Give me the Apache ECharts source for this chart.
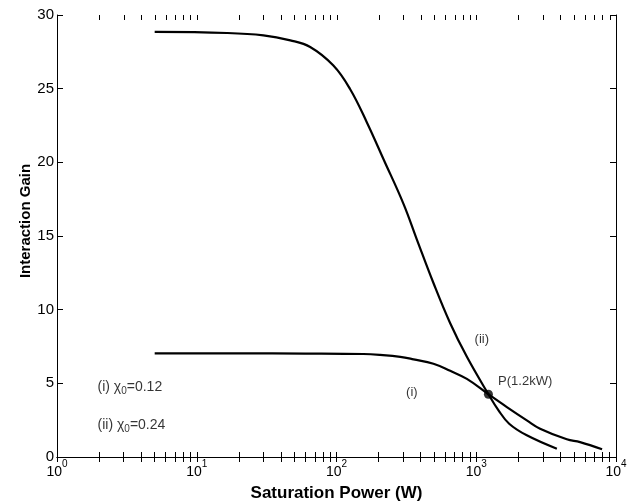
<!DOCTYPE html>
<html>
<head>
<meta charset="utf-8">
<script src="https://cdn.jsdelivr.net/npm/echarts@6/dist/echarts.min.js"></script>
<style>html,body{margin:0;padding:0;background:#fff}#c{width:631px;height:504px}</style>
</head>
<body>
<div id="c"></div>
<script>
// ---- data ----
var curveI_x = [5, 20, 60, 156, 205, 286, 356, 494, 651, 857, 1222, 1656, 2300, 2864, 4446, 5534, 7950];
var curveI_y = [7.03, 7.03, 7.02, 6.99, 6.93, 6.80, 6.63, 6.33, 5.85, 5.30, 4.26, 3.39, 2.49, 1.92, 1.20, 1.01, 0.52];
var curveII_x = [5, 16.4, 30, 46.7, 64.8, 95, 125, 165, 217, 301, 376, 494, 651, 857, 1222, 1443, 1720, 2300, 3774];
var curveII_y = [28.85, 28.78, 28.62, 28.28, 27.83, 26.57, 24.98, 22.71, 20.21, 17.2, 14.76, 11.81, 9.08, 6.80, 4.26, 3.17, 2.26, 1.47, 0.56];
var pointP = [1222, 4.26];
var xMin = 1, xMax = 10000;
var yMin = 0, yMax = 30, yStep = 5;
var majorTicks = [1, 10, 100, 1000, 10000];
var minorTicks = [2,3,4,5,6,7,8,9, 20,30,40,50,60,70,80,90, 200,300,400,500,600,700,800,900, 2000,3000,4000,5000,6000,7000,8000,9000];
var centerNotes = [
  {x: 1096, y: 8.0, text: '(ii)'},
  {x: 346, y: 4.4, text: '(i)'},
  {x: 2239, y: 5.12, text: 'P(1.2kW)'}
];
var legendNotes = [
  {x: 1.95, y: 4.7, text: '{n|(i) χ}{s|0}{n|=0.12}'},
  {x: 1.95, y: 2.12, text: '{n|(ii) χ}{s|0}{n|=0.24}'}
];
var xTitle = 'Saturation Power (W)';
var yTitle = 'Interaction Gain';

function zip(a, b) { return a.map(function (v, i) { return [v, b[i]]; }); }

var FONT = 'Liberation Sans';
var chart = echarts.init(document.getElementById('c'), null, {renderer: 'canvas'});
var axisLine = {show: true, lineStyle: {color: '#000', width: 1}};
var allTicks = majorTicks.concat(minorTicks);
chart.setOption({
  animation: false,
  backgroundColor: '#fff',
  grid: {left: 57, right: 15, top: 15, bottom: 47, outerBoundsMode: 'none', containLabel: false},
  xAxis: [{
    type: 'log', logBase: 10, min: xMin, max: xMax,
    axisLine: axisLine,
    axisTick: {show: true, inside: true, length: 5, customValues: allTicks, lineStyle: {color: '#000'}},
    splitLine: {show: false},
    axisLabel: {
      margin: 2, fontFamily: FONT, color: '#000', customValues: majorTicks,
      formatter: function (v) { return '{b|10}{e|' + Math.round(Math.log10(v)) + '}'; },
      rich: {
        b: {fontSize: 14, fontFamily: FONT, color: '#000', lineHeight: 20, verticalAlign: 'bottom'},
        e: {fontSize: 10, fontFamily: FONT, color: '#000', lineHeight: 11, verticalAlign: 'top'}
      }
    },
    name: xTitle, nameLocation: 'middle', nameGap: 28, nameMoveOverlap: false,
    nameTextStyle: {fontFamily: FONT, fontWeight: 'bold', fontSize: 17, color: '#000'}
  }, {
    type: 'log', logBase: 10, min: xMin, max: xMax, position: 'top',
    axisLine: axisLine,
    axisTick: {show: true, inside: true, length: 5, customValues: allTicks, lineStyle: {color: '#000'}},
    axisLabel: {show: false}, splitLine: {show: false}
  }],
  yAxis: [{
    type: 'value', min: yMin, max: yMax, interval: yStep,
    axisLine: axisLine,
    axisTick: {show: true, inside: true, length: 6, lineStyle: {color: '#000'}},
    splitLine: {show: false},
    axisLabel: {margin: 3, fontFamily: FONT, fontSize: 15, color: '#000'},
    name: yTitle, nameLocation: 'middle', nameGap: 24, nameMoveOverlap: false,
    nameTextStyle: {fontFamily: FONT, fontWeight: 'bold', fontSize: 15, color: '#000', padding: [0, 0, 0, 30]}
  }, {
    type: 'value', min: yMin, max: yMax, interval: yStep, position: 'right',
    axisLine: axisLine,
    axisTick: {show: true, inside: true, length: 6, lineStyle: {color: '#000'}},
    axisLabel: {show: false}, splitLine: {show: false}
  }],
  series: [{
    type: 'line', data: zip(curveI_x, curveI_y), smooth: 0.4, symbol: 'none',
    lineStyle: {color: '#000', width: 2.2}
  }, {
    type: 'line', data: zip(curveII_x, curveII_y), smooth: 0.4, symbol: 'none',
    lineStyle: {color: '#000', width: 2.2}
  }, {
    type: 'scatter', data: [pointP], symbol: 'circle', symbolSize: 9,
    itemStyle: {color: '#000'}, z: 5
  }, {
    // ticks along the top edge of the frame
    type: 'custom', data: allTicks.map(function (v) { return [v, yMax]; }),
    clip: false, silent: true, z: 10,
    renderItem: function (params, api) {
      var p = api.coord([api.value(0), yMax]);
      var x = Math.round(p[0]) + 0.5;
      return {
        type: 'line',
        shape: {x1: x, y1: p[1], x2: x, y2: p[1] + 5},
        style: {stroke: '#000', lineWidth: 1}
      };
    }
  }, {
    type: 'scatter', symbolSize: 0, silent: true,
    data: centerNotes.map(function (d) { return {value: [d.x, d.y], label: {formatter: d.text}}; }),
    label: {show: true, position: 'inside', fontFamily: FONT, fontSize: 13, color: '#000'}
  }, {
    type: 'scatter', symbolSize: 0, silent: true,
    data: legendNotes.map(function (d) { return {value: [d.x, d.y], label: {formatter: d.text}}; }),
    label: {
      show: true, position: 'right', distance: 0, fontFamily: FONT, fontSize: 14, color: '#000',
      rich: {
        n: {fontSize: 14, fontFamily: FONT, color: '#000', lineHeight: 16, verticalAlign: 'top'},
        s: {fontSize: 10, fontFamily: FONT, color: '#000', lineHeight: 11, verticalAlign: 'bottom'}
      }
    }
  }]
});
</script>
</body>
</html>
